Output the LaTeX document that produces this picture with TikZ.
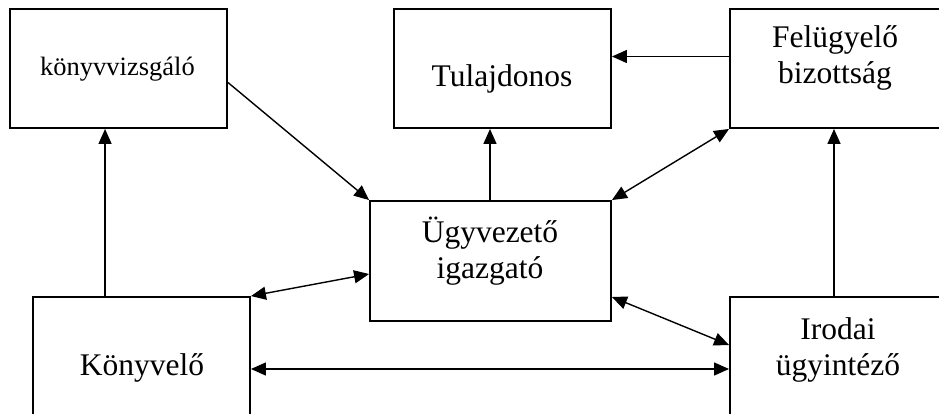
\documentclass[tikz,border=0pt]{standalone}
\usepackage{fontspec}
\setmainfont{Liberation Serif}
\usetikzlibrary{arrows.meta}

\begin{document}
\begin{tikzpicture}[x=1pt, y=-1pt]

\def\bw{217pt}
\def\bh{119pt}

\tikzset{box/.style = {draw, line width=1.9pt, minimum width=\bw, minimum height=\bh, inner sep=0pt}}
\tikzset{txt/.style = {font=\fontsize{31.5}{36}\selectfont, align=center, inner sep=0pt}}
\tikzset{link/.style = {line width=1.4pt}}
\tikzset{>={Triangle[length=15pt, width=13pt]}}

\useasboundingbox (0,0) rectangle (939,414);

%boxes
\node[box] (kv)  at (118.5, 68.5) {};
\node[box] (tul) at (502.5, 68.5) {};
\node[box] (fb)  at (838.5, 68.5) {};
\node[box, minimum width=241pt, minimum height=120pt] (ugy) at (490.5, 261) {};
\node[box] (kon) at (141.5, 356.5) {};
\node[box] (iro) at (838.5, 356.5) {};

%texts (base = last line)
\node[txt, font=\fontsize{26.5}{30}\selectfont, anchor=base] (kvtxt) at (117.5, 76) {könyvvizsgáló};
\node[txt, anchor=base] (tultxt) at (502, 87) {Tulajdonos};
\node[txt, anchor=base] (fbtxt)  at (835, 84) {Felügyelő\\bizottság};
\node[txt, anchor=base] (ugytxt) at (490, 278) {Ügyvezető\\igazgató};
\node[txt, anchor=base] (kontxt) at (142, 375) {Könyvelő};
\node[txt, anchor=base] (irotxt) at (838, 375) {Irodai\\ügyintéző};

%one way
\draw[link, ->] ([xshift=73pt]kon.north west) -- ([xshift=73pt]kon.north west |- kv.south);
\draw[link, ->] ([yshift=-14pt]kv.east) -- (ugy.north west);
\draw[link, ->] ([xshift=-0.5pt]ugy.north) -- ([xshift=-0.5pt]ugy.north |- tul.south);
\draw[link, ->] ([yshift=12pt]fb.west) -- ([yshift=12pt]fb.west -| tul.east);
\draw[link, ->] ([xshift=-4.5pt]iro.north) -- ([xshift=-4.5pt]iro.north |- fb.south);

%both ways
\draw[link, <->] (ugy.north east) -- (fb.south west);
\draw[link, <->] (kon.north east) -- ([yshift=-13pt]ugy.west);
\draw[link, <->] ([yshift=-12.5pt]kon.east) -- ([yshift=-12.5pt]kon.east -| iro.west);
\draw[link, <->] ([yshift=-36pt]ugy.east) -- ([yshift=11.5pt]iro.west);

\end{tikzpicture}
\end{document}
